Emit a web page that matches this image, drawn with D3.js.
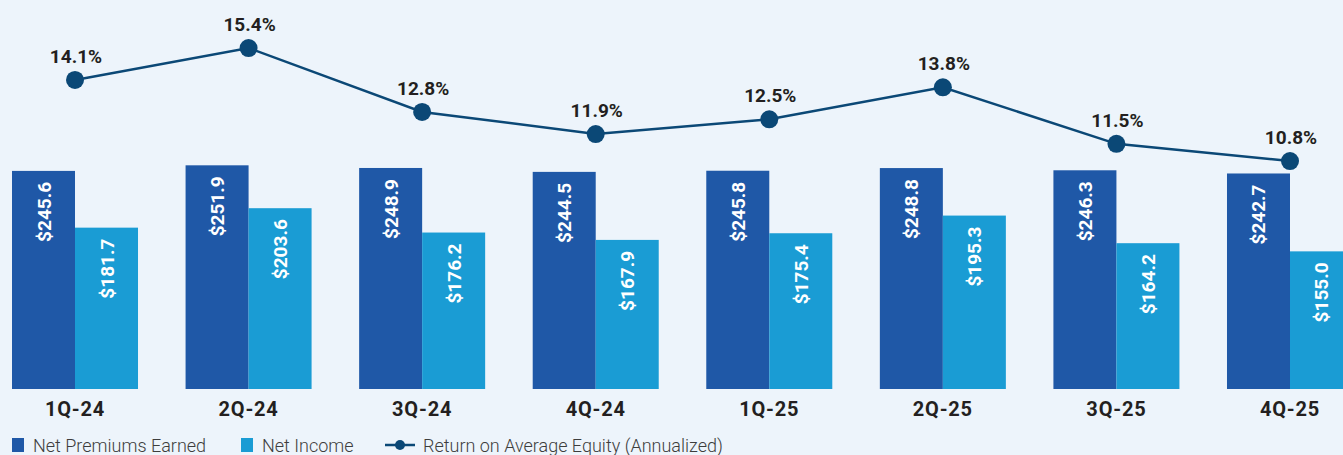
<!DOCTYPE html>
<html>
<head>
<meta charset="utf-8">
<script src="https://cdn.jsdelivr.net/npm/d3@7"></script>
<style>
  html, body { margin: 0; padding: 0; background: #edf4fb; overflow: hidden; }
  svg { display: block; font-family: Roboto, "Open Sans", sans-serif; }
</style>
</head>
<body>
<div id="wrap"></div>
<script>
// data
const quarters = ["1Q-24", "2Q-24", "3Q-24", "4Q-24", "1Q-25", "2Q-25", "3Q-25", "4Q-25"];
const netPremiums = [245.6, 251.9, 248.9, 244.5, 245.8, 248.8, 246.3, 242.7];
const netIncome = [181.7, 203.6, 176.2, 167.9, 175.4, 195.3, 164.2, 155.0];
const roe = [14.1, 15.4, 12.8, 11.9, 12.5, 13.8, 11.5, 10.8];
const seriesNames = ["Net Premiums Earned", "Net Income"];
const lineName = "Return on Average Equity (Annualized)";

chart()
function chart(){
  const WIDTH = 1343;
  const HEIGHT = 455;
  const BASE = 389;// bar baseline
  const colors = ["#1f58a7", "#1a9cd4"];
  const lineColor = "#0b4876";

  let svg = d3.select('#wrap')
    .append('svg')
    .attr('width', WIDTH)
    .attr('height', HEIGHT)

  svg.append('rect')
    .attr('width', WIDTH)
    .attr('height', HEIGHT)
    .attr('fill', '#edf4fb')

  // group scale
  let x0 = d3.scaleBand()
    .domain(quarters)
    .range([12, 1353])
    .paddingInner(0.274)
    .paddingOuter(0)

  // bar inside group
  let x1 = d3.scaleBand()
    .domain(seriesNames)
    .range([0, x0.bandwidth()])

  // bars y
  let y = d3.scaleLinear()
    .domain([0, 300])
    .range([BASE, BASE - 266.4])

  // line y
  let yLine = d3.scaleLinear()
    .domain([10, 16])
    .range([180.7, 33.3])

  let rows = quarters.map((q, i) => ({
    q: q,
    vals: [netPremiums[i], netIncome[i]]
  }))

  let groups = svg.append('g')
    .selectAll('g')
    .data(rows)
    .enter()
    .append('g')
    .attr('transform', d => 'translate(' + x0(d.q) + ',0)')

  groups.selectAll('rect')
    .data(d => d.vals.map((v, k) => ({ name: seriesNames[k], v: v, k: k })))
    .enter()
    .append('rect')
    .attr('x', d => x1(d.name))
    .attr('y', d => y(d.v))
    .attr('width', x1.bandwidth())
    .attr('height', d => BASE - y(d.v))
    .attr('fill', d => colors[d.k])

  // value labels inside bars (rotated)
  groups.selectAll('text.val')
    .data(d => d.vals.map((v, k) => ({ name: seriesNames[k], v: v })))
    .enter()
    .append('text')
    .classed('val', true)
    .attr('transform', d => {
      let cx = x1(d.name) + x1.bandwidth() / 2;
      return 'translate(' + (cx + 7) + ',' + (y(d.v) + 11) + ') rotate(-90)'
    })
    .attr('text-anchor', 'end')
    .attr('fill', '#ffffff')
    .attr('font-size', '19px')
    .attr('font-weight', 700)
    .text(d => '$' + d.v.toFixed(1))

  // category labels
  groups.append('text')
    .attr('x', x0.bandwidth() / 2)
    .attr('y', 415.5)
    .attr('text-anchor', 'middle')
    .attr('fill', '#231f20')
    .attr('font-size', '20px')
    .attr('font-weight', 700)
    .attr('letter-spacing', '0.8px')
    .text(d => d.q)

  // ROE line
  let cxOf = i => x0(quarters[i]) + x0.bandwidth() / 2;
  let line = d3.line()
    .x((d, i) => cxOf(i))
    .y(d => yLine(d))

  svg.append('path')
    .datum(roe)
    .attr('d', line)
    .attr('fill', 'none')
    .attr('stroke', lineColor)
    .attr('stroke-width', 2.5)

  svg.append('g')
    .selectAll('circle')
    .data(roe)
    .enter()
    .append('circle')
    .attr('cx', (d, i) => cxOf(i))
    .attr('cy', d => yLine(d))
    .attr('r', 9)
    .attr('fill', lineColor)

  svg.append('g')
    .selectAll('text')
    .data(roe)
    .enter()
    .append('text')
    .attr('x', (d, i) => cxOf(i) + 1)
    .attr('y', d => yLine(d) - 17)
    .attr('text-anchor', 'middle')
    .attr('fill', '#231f20')
    .attr('font-size', '19px')
    .attr('font-weight', 700)
    .text(d => d.toFixed(1) + '%')

  // legend
  let legend = svg.append('g').attr('transform', 'translate(0,452)')
  let items = [
    { x: 12, type: 'box', color: colors[0], label: seriesNames[0] },
    { x: 241, type: 'box', color: colors[1], label: seriesNames[1] },
    { x: 385, type: 'line', color: lineColor, label: lineName }
  ]
  items.forEach(it => {
    if (it.type === 'box') {
      legend.append('rect')
        .attr('x', it.x)
        .attr('y', -14)
        .attr('width', 12)
        .attr('height', 14)
        .attr('fill', it.color)
      legend.append('text')
        .attr('x', it.x + 21)
        .attr('y', 0)
        .attr('fill', '#3d3d3d')
        .attr('font-size', '18px')
        .attr('font-weight', 300)
        .text(it.label)
    } else {
      legend.append('line')
        .attr('x1', it.x)
        .attr('x2', it.x + 30)
        .attr('y1', -7)
        .attr('y2', -7)
        .attr('stroke', it.color)
        .attr('stroke-width', 2.5)
      legend.append('circle')
        .attr('cx', it.x + 15)
        .attr('cy', -7)
        .attr('r', 5)
        .attr('fill', it.color)
      legend.append('text')
        .attr('x', it.x + 38)
        .attr('y', 0)
        .attr('fill', '#3d3d3d')
        .attr('font-size', '18px')
        .attr('font-weight', 300)
        .text(it.label)
    }
  })
}
</script>
</body>
</html>
